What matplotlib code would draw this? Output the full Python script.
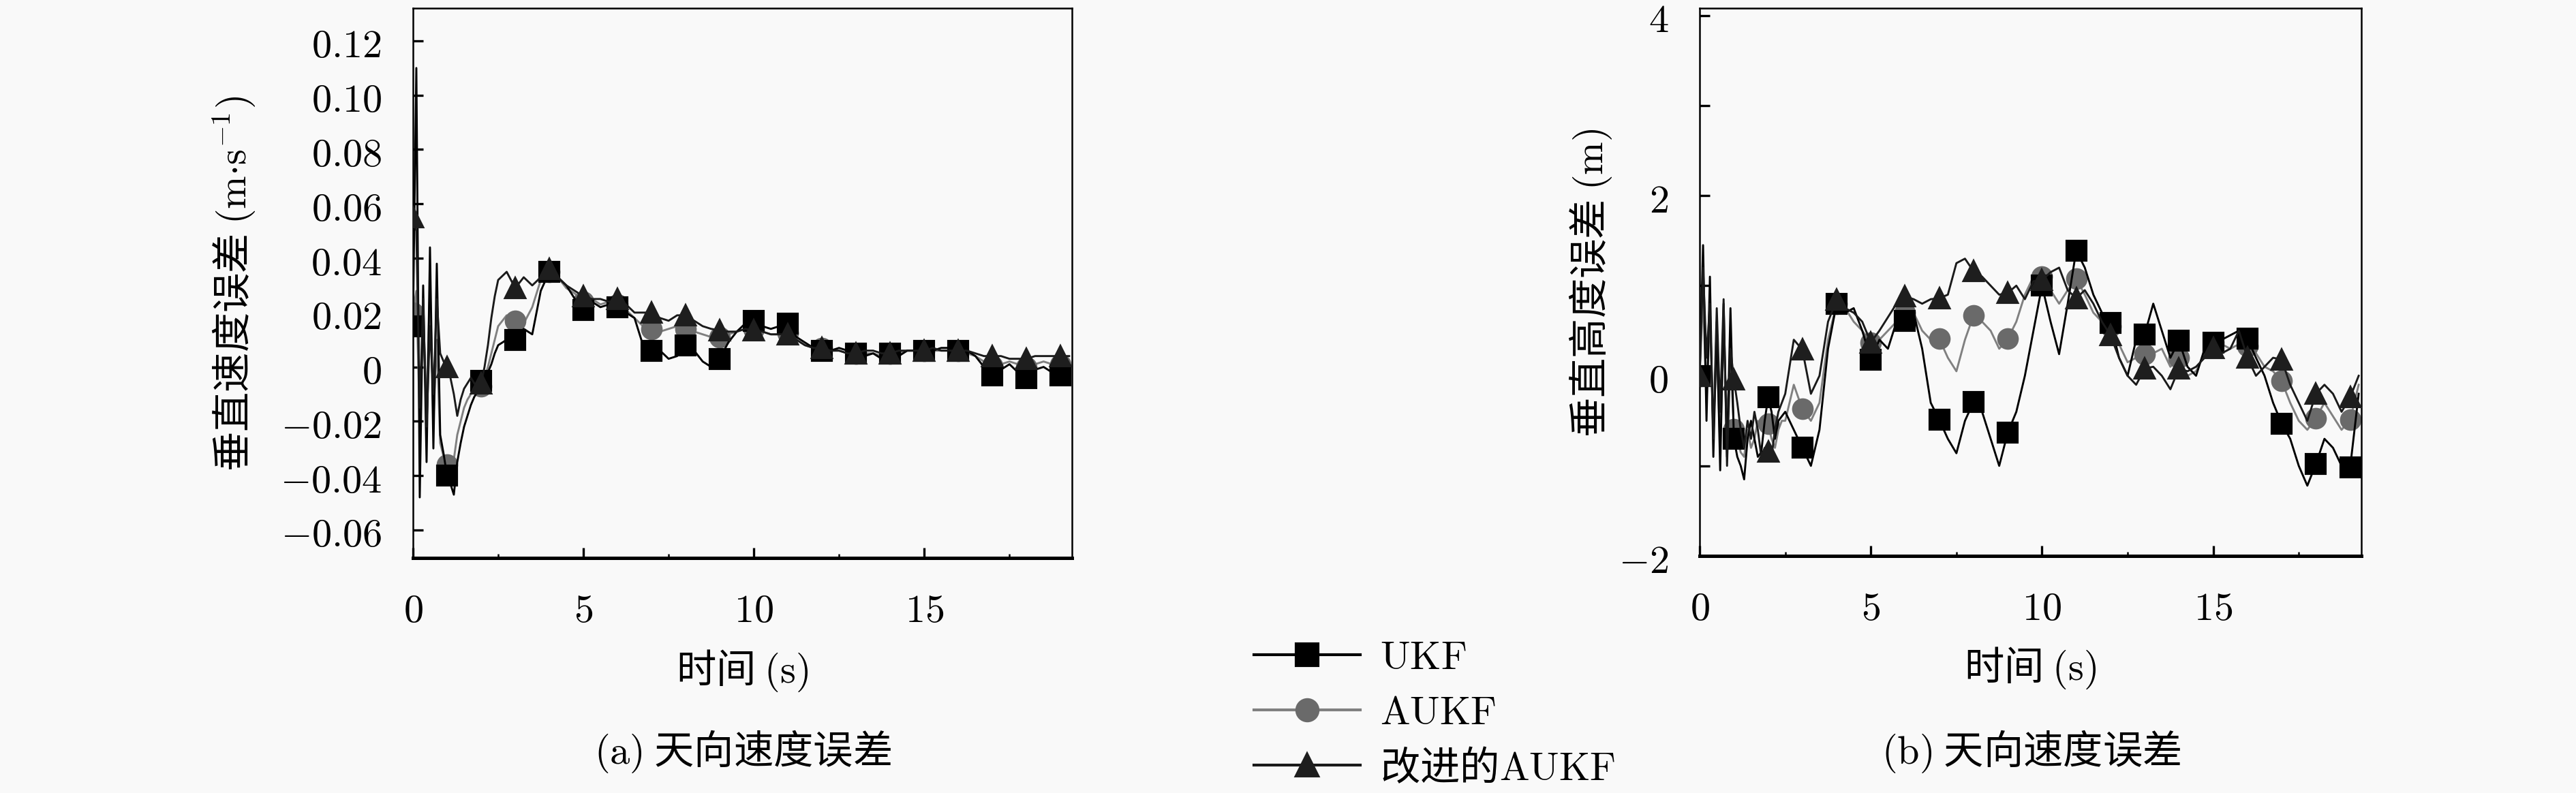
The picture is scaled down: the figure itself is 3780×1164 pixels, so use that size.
import numpy as np
import matplotlib
matplotlib.use("Agg")
from matplotlib import pyplot as plt
from matplotlib.ticker import FixedLocator, FuncFormatter
from matplotlib.lines import Line2D

plt.rcParams['font.family'] = ['Noto Sans CJK SC', 'DejaVu Sans']
plt.rcParams['mathtext.fontset'] = 'cm'
plt.rcParams['font.size'] = 14

# time grid: 0.1 s for the first 2.5 s, then 0.25 s
t_fine = np.arange(0, 2.45, 0.1)
t_coarse = np.arange(2.5, 19.3, 0.25)
time = np.concatenate([t_fine, t_coarse])

labels = ['UKF', 'AUKF', '改进的AUKF']

# (a) vertical velocity error, m/s
vel_ukf = [0.015, 0.110, -0.048, 0.030, -0.035, 0.044, -0.030, 0.038, -0.025, -0.032,
           -0.040, -0.043, -0.047, -0.035, -0.028, -0.022, -0.018, -0.014, -0.011, -0.009,
           -0.005, -0.006, -0.002, 0.001, 0.005,
           0.008, 0.010,
           0.010, 0.014, 0.012, 0.028,
           0.035, 0.033, 0.030, 0.025,
           0.021, 0.024, 0.022, 0.023,
           0.022, 0.020, 0.018, 0.008,
           0.006, 0.006, 0.003, 0.004,
           0.008, 0.006, 0.002, 0.000,
           0.003, 0.009, 0.013, 0.016,
           0.017, 0.015, 0.014, 0.015,
           0.016, 0.011, 0.009, 0.007,
           0.006, 0.006, 0.007, 0.006,
           0.005, 0.004, 0.005, 0.003,
           0.005, 0.004, 0.006, 0.006,
           0.006, 0.006, 0.007, 0.007,
           0.006, 0.006, 0.004, 0.000,
           -0.003, -0.001, 0.001, -0.002,
           -0.004, -0.001, 0.000, -0.002,
           -0.003, -0.002]
vel_aukf = [0.020, 0.028, -0.020, 0.018, -0.015, 0.030, -0.020, 0.010, -0.028, -0.033,
            -0.036, -0.038, -0.034, -0.025, -0.020, -0.015, -0.012, -0.010, -0.008, -0.007,
            -0.007, -0.004, 0.000, 0.005, 0.010,
            0.015, 0.019,
            0.017, 0.016, 0.022, 0.032,
            0.035, 0.033, 0.029, 0.027,
            0.024, 0.025, 0.023, 0.024,
            0.023, 0.021, 0.018, 0.015,
            0.014, 0.013, 0.014, 0.015,
            0.014, 0.013, 0.012, 0.011,
            0.011, 0.012, 0.013, 0.014,
            0.014, 0.013, 0.012, 0.012,
            0.0125, 0.010, 0.008, 0.007,
            0.007, 0.006, 0.006, 0.005,
            0.005, 0.005, 0.005, 0.004,
            0.005, 0.005, 0.006, 0.006,
            0.006, 0.006, 0.006, 0.006,
            0.006, 0.005, 0.004, 0.002,
            0.0005, 0.001, 0.002, 0.001,
            0.000, 0.001, 0.002, 0.001,
            0.001, 0.001]
vel_iaukf = [0.055, 0.050, -0.015, 0.025, -0.022, 0.015, -0.010, 0.025, 0.005, 0.002,
             0.000, -0.004, -0.010, -0.018, -0.012, -0.008, -0.006, -0.004, -0.006, -0.008,
             -0.006, 0.000, 0.008, 0.018, 0.026,
             0.032, 0.035,
             0.029, 0.033, 0.030, 0.033,
             0.036, 0.033, 0.030, 0.028,
             0.026, 0.025, 0.025, 0.024,
             0.025, 0.023, 0.020, 0.020,
             0.020, 0.018, 0.017, 0.019,
             0.019, 0.017, 0.015, 0.014,
             0.0135, 0.013, 0.013, 0.014,
             0.0135, 0.013, 0.012, 0.012,
             0.012, 0.010, 0.008, 0.007,
             0.007, 0.006, 0.006, 0.005,
             0.005, 0.006, 0.006, 0.005,
             0.005, 0.006, 0.006, 0.006,
             0.006, 0.007, 0.006, 0.006,
             0.006, 0.006, 0.005, 0.004,
             0.004, 0.004, 0.003, 0.003,
             0.003, 0.004, 0.004, 0.004,
             0.004, 0.004]

# (b) vertical height error, m
alt_ukf = [0.00, 1.45, -0.50, 1.10, -0.90, 0.60, -1.05, 0.80, -0.90, 0.75,
           -0.70, -0.90, -1.00, -1.15, -0.70, -0.50, -0.70, -0.90, -0.85, -0.50,
           -0.24, -0.40, -0.70, -0.50, -0.45,
           -0.40, -0.60,
           -0.80, -1.00, -0.60, 0.30,
           0.80, 0.70, 0.75, 0.50,
           0.18, 0.40, 0.30, 0.60,
           0.61, 0.70, 0.30, -0.30,
           -0.49, -0.70, -0.86, -0.50,
           -0.29, -0.40, -0.70, -1.00,
           -0.63, -0.40, 0.00, 0.50,
           1.00, 0.60, 0.24, 0.80,
           1.39, 1.20, 0.90, 0.70,
           0.59, 0.20, 0.00, 0.40,
           0.46, 0.80, 0.50, 0.20,
           0.39, 0.10, 0.00, 0.30,
           0.37, 0.40, 0.45, 0.50,
           0.41, 0.20, 0.00, -0.30,
           -0.53, -0.70, -1.00, -1.22,
           -0.98, -0.70, -0.80, -1.00,
           -1.02, -0.20]
alt_aukf = [0.00, 0.90, -0.30, 0.70, -0.60, 0.30, -0.80, 0.50, -0.50, 0.20,
            -0.59, -0.70, -0.85, -0.90, -0.60, -0.80, -0.70, -0.50, -0.60, -0.55,
            -0.53, -0.70, -0.80, -0.60, -0.50,
            -0.50, -0.10,
            -0.37, -0.50, -0.30, 0.40,
            0.80, 0.75, 0.60, 0.50,
            0.37, 0.40, 0.50, 0.60,
            0.70, 0.70, 0.50, 0.40,
            0.41, 0.20, 0.05, 0.40,
            0.67, 0.60, 0.50, 0.30,
            0.41, 0.60, 0.90, 1.10,
            1.10, 0.95, 0.80, 0.95,
            1.08, 0.90, 0.70, 0.60,
            0.55, 0.35, 0.15, 0.20,
            0.24, 0.25, 0.30, 0.10,
            0.20, 0.00, 0.05, 0.25,
            0.37, 0.35, 0.30, 0.35,
            0.33, 0.25, 0.10, 0.05,
            -0.06, -0.30, -0.50, -0.60,
            -0.47, -0.30, -0.45, -0.60,
            -0.49, -0.10]
alt_iaukf = [0.00, 1.20, 0.20, 0.80, -0.70, 0.75, -0.40, 0.85, -1.00, 0.30,
             -0.04, -0.30, -0.60, -0.80, -0.50, -0.70, -0.40, -0.60, -0.90, -0.80,
             -0.84, -0.90, -0.60, -0.40, -0.30,
             -0.20, 0.40,
             0.29, -0.20, 0.00, 0.60,
             0.84, 0.75, 0.70, 0.60,
             0.37, 0.50, 0.65, 0.80,
             0.88, 0.85, 0.80, 0.85,
             0.86, 0.90, 1.25, 1.30,
             1.16, 1.10, 1.00, 0.90,
             0.92, 1.00, 0.85, 1.05,
             1.06, 1.15, 1.20, 0.95,
             0.86, 0.95, 0.80, 0.60,
             0.45, 0.20, 0.00, -0.10,
             0.08, 0.10, 0.00, -0.15,
             0.08, 0.05, 0.10, 0.20,
             0.31, 0.25, 0.30, 0.50,
             0.20, 0.00, 0.10, 0.20,
             0.18, -0.10, -0.30, -0.50,
             -0.20, -0.10, -0.20, -0.40,
             -0.24, 0.00]

# markers on whole seconds
mark_idx = [i for i, v in enumerate(time) if abs(v - round(v)) < 1e-6]

styles = [dict(color='black', marker='s', mfc='black', mec='black', lw=0.7, zorder=3),
          dict(color='#808080', marker='o', mfc='#6a6a6a', mec='#6a6a6a', lw=0.7, zorder=2),
          dict(color='#1a1a1a', marker='^', mfc='#1e1e1e', mec='#1e1e1e', lw=0.7, zorder=4)]

fig = plt.figure(figsize=(12.6, 3.8833), dpi=300, facecolor='#f9f9f9')
ax1 = fig.add_axes([0.1603, 0.2961, 0.2558, 0.6927], facecolor='#f9f9f9')
ax2 = fig.add_axes([0.6598, 0.2987, 0.2569, 0.6901], facecolor='#f9f9f9')


def num_fmt(v, pos):
    if abs(v) < 1e-9:
        return '$0$'
    if float(v).is_integer():
        return '$%d$' % v
    return '$%.2f$' % v


for ax, series in [(ax1, [vel_ukf, vel_aukf, vel_iaukf]),
                   (ax2, [alt_ukf, alt_aukf, alt_iaukf])]:
    for vals, st, lab in zip(series, styles, labels):
        ax.plot(time, vals, ms=6.6, markevery=mark_idx, label=lab, **st)
    ax.set_xlim(0, 19.33)
    ax.xaxis.set_major_locator(FixedLocator([0, 5, 10, 15]))
    ax.xaxis.set_minor_locator(FixedLocator([2.5, 7.5, 12.5, 17.5]))
    ax.xaxis.set_major_formatter(FuncFormatter(num_fmt))
    ax.yaxis.set_major_formatter(FuncFormatter(num_fmt))
    ax.tick_params(which='both', direction='in', top=False, right=False, labelsize=14)
    ax.tick_params(axis='x', which='major', length=3.6, width=0.8, pad=11)
    ax.tick_params(axis='x', which='minor', length=1.5, width=0.6)
    ax.tick_params(axis='y', which='both', length=3.6, width=0.8, pad=11)
    for s in ['left', 'top', 'right']:
        ax.spines[s].set_linewidth(0.6)
    ax.spines['bottom'].set_linewidth(1.2)
    ax.set_xlabel(r'时间 $(\mathrm{s})$', fontsize=14)
    ax.xaxis.set_label_coords(0.5, -0.204)
    ax.xaxis.label.set_verticalalignment('center')

ax1.set_ylim(-0.0703, 0.132)
ax1.yaxis.set_major_locator(FixedLocator(np.arange(-0.06, 0.121, 0.02)))
ax1.set_ylabel(r'垂直速度误差 $(\mathrm{m{\cdot}s^{-1}})$', fontsize=14)
ax1.yaxis.set_label_coords(-0.271, 0.5)
ax1.yaxis.label.set_verticalalignment('center')

ax2.set_ylim(-2, 4.08)
ax2.yaxis.set_major_locator(FixedLocator([-2, 0, 2, 4]))
ax2.yaxis.set_minor_locator(FixedLocator([-1, 1, 3]))
ax2.set_ylabel(r'垂直高度误差 $(\mathrm{m})$', fontsize=14)
ax2.yaxis.set_label_coords(-0.164, 0.5)
ax2.yaxis.label.set_verticalalignment('center')

fig.text(0.2884, 0.0532, r'$(\mathrm{a})$ 天向速度误差', ha='center', va='center', fontsize=14)
fig.text(0.7884, 0.0532, r'$(\mathrm{b})$ 天向速度误差', ha='center', va='center', fontsize=14)

handles = [Line2D([], [], ms=7.5, lw=1.0, **{k: v for k, v in st.items() if k not in ('lw', 'zorder')})
           for st in styles]
leg_labels = [r'$\mathrm{UKF}$', r'$\mathrm{AUKF}$', r'改进的$\mathrm{AUKF}$']
fig.legend(handles, leg_labels, loc='center left', bbox_to_anchor=(0.4868, 0.1013),
           frameon=False, fontsize=14, handlelength=2.67, handletextpad=0.5,
           labelspacing=0.35, borderpad=0, borderaxespad=0)

fig.savefig('out.png', dpi=300, facecolor=fig.get_facecolor())
